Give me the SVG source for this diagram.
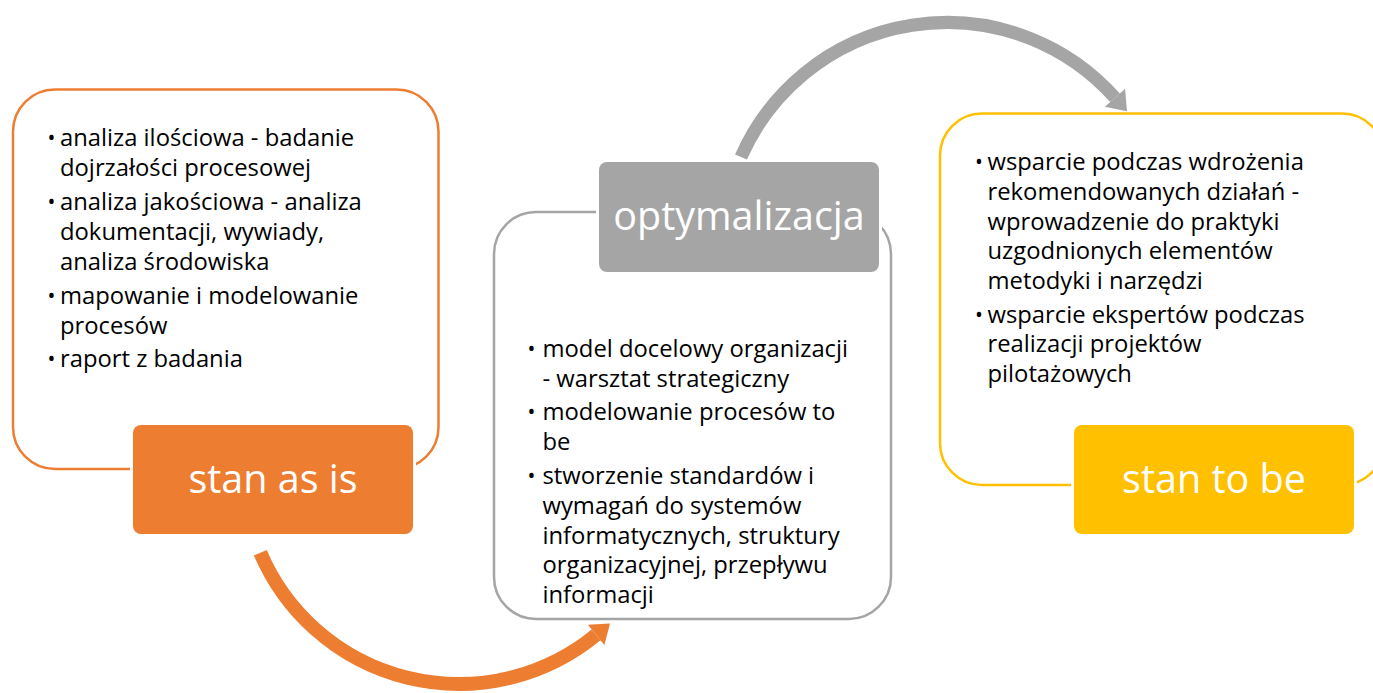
<svg xmlns="http://www.w3.org/2000/svg" width="1373" height="693" viewBox="0 0 1373 693">
<style>
.body{font-family:"Open Sans","Liberation Sans",sans-serif;font-size:23.8px;fill:#000}
.bul{font-family:"Open Sans","Liberation Sans",sans-serif;font-size:21px;fill:#000;text-anchor:middle}
.lab{font-family:"Open Sans","Liberation Sans",sans-serif;font-size:39.5px;fill:#fff;text-anchor:middle}
.frame{fill:#fff;stroke-width:2.5}
.tag{stroke:#fff;stroke-width:6;paint-order:stroke}
</style>
<defs>
<marker id="headO" markerUnits="userSpaceOnUse" markerWidth="30" markerHeight="30" viewBox="0 -15 20 30" refX="0" refY="0" orient="auto">
<path d="M0,-13 L18,0 L0,13 Z" fill="#ED7D31"/>
</marker>
<marker id="headG" markerUnits="userSpaceOnUse" markerWidth="30" markerHeight="30" viewBox="0 -15 20 30" refX="0" refY="0" orient="auto">
<path d="M0,-13.5 L18,0 L0,13.5 Z" fill="#A5A5A5"/>
</marker>
</defs>
<rect width="1373" height="693" fill="#fff"/>

<g id="node-as-is">
<rect class="frame" x="13" y="89.5" width="425.5" height="379.5" rx="42" stroke="#ED7D31"/>
<text class="bul" x="51.5" y="145">•</text>
<text class="body" x="60" y="146">analiza ilościowa - badanie</text>
<text class="body" x="60" y="176">dojrzałości procesowej</text>
<text class="bul" x="51.5" y="209">•</text>
<text class="body" x="60" y="210">analiza jakościowa - analiza</text>
<text class="body" x="60" y="240">dokumentacji, wywiady,</text>
<text class="body" x="60" y="270">analiza środowiska</text>
<text class="bul" x="51.5" y="302.5">•</text>
<text class="body" x="60" y="303.5">mapowanie i modelowanie</text>
<text class="body" x="60" y="333.5">procesów</text>
<text class="bul" x="51.5" y="366">•</text>
<text class="body" x="60" y="367">raport z badania</text>
<rect class="tag" x="133" y="425" width="280" height="109" rx="8" fill="#ED7D31"/>
<text class="lab" x="273" y="493">stan as is</text>
</g>

<g id="node-optymalizacja">
<rect class="frame" x="494" y="212" width="397" height="407" rx="42" stroke="#A5A5A5"/>
<text class="bul" x="531.5" y="356">•</text>
<text class="body" x="542.5" y="357">model docelowy organizacji</text>
<text class="body" x="542.5" y="387">- warsztat strategiczny</text>
<text class="bul" x="531.5" y="419">•</text>
<text class="body" x="542.5" y="420">modelowanie procesów to</text>
<text class="body" x="542.5" y="450">be</text>
<text class="bul" x="531.5" y="483">•</text>
<text class="body" x="542.5" y="484">stworzenie standardów i</text>
<text class="body" x="542.5" y="514">wymagań do systemów</text>
<text class="body" x="542.5" y="543.5">informatycznych, struktury</text>
<text class="body" x="542.5" y="573">organizacyjnej, przepływu</text>
<text class="body" x="542.5" y="602.5">informacji</text>
<rect class="tag" x="599" y="162" width="280" height="110" rx="8" fill="#A5A5A5"/>
<text class="lab" x="739" y="230">optymalizacja</text>
</g>

<g id="node-to-be">
<rect class="frame" x="940" y="113.5" width="444" height="371.5" rx="42" stroke="#FFC000"/>
<text class="bul" x="979" y="169">•</text>
<text class="body" x="987.5" y="170">wsparcie podczas wdrożenia</text>
<text class="body" x="987.5" y="200">rekomendowanych działań -</text>
<text class="body" x="987.5" y="229.5">wprowadzenie do praktyki</text>
<text class="body" x="987.5" y="259">uzgodnionych elementów</text>
<text class="body" x="987.5" y="288.5">metodyki i narzędzi</text>
<text class="bul" x="979" y="321.5">•</text>
<text class="body" x="987.5" y="322.5">wsparcie ekspertów podczas</text>
<text class="body" x="987.5" y="352">realizacji projektów</text>
<text class="body" x="987.5" y="381.5">pilotażowych</text>
<rect class="tag" x="1074" y="425" width="280" height="109" rx="8" fill="#FFC000"/>
<text class="lab" x="1214" y="493">stan to be</text>
</g>

<g id="connectors" fill="none">
<path d="M260.3,552.7 A216,216 0 0 0 596.1,634.9" stroke="#ED7D31" stroke-width="14" marker-end="url(#headO)"/>
<path d="M741,157 A225,225 0 0 1 1115,97.8" stroke="#A5A5A5" stroke-width="13" marker-end="url(#headG)"/>
</g>
</svg>
